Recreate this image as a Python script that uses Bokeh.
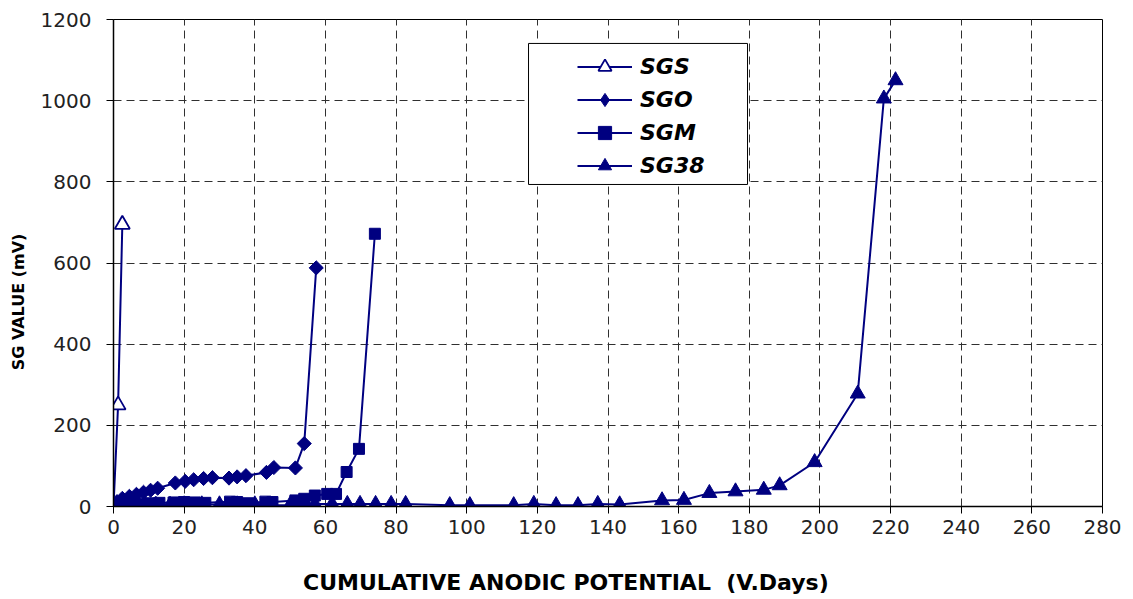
import math
from bokeh.plotting import figure
from bokeh.models import Range1d, FixedTicker, Legend, LegendItem, BoxAnnotation
from bokeh.embed import file_html
from bokeh.resources import INLINE

# ---- data ----
x_ticks = [0, 20, 40, 60, 80, 100, 120, 140, 160, 180, 200, 220, 240, 260, 280]
y_ticks = [0, 200, 400, 600, 800, 1000, 1200]

sgs_x = [0, 1.3, 2.5]
sgs_y = [0, 250, 695]

sgo_x = [0, 1, 2.5, 4.5, 6.5, 8.5, 10.5, 12.5, 17.5, 20.3, 22.7, 25.5, 28, 32.7, 35, 37.5, 43.3, 45.4, 51.5, 54, 57.4]
sgo_y = [0, 12, 20, 25, 30, 35, 40, 45, 58, 62, 66, 69, 71, 70, 73, 76, 84, 96, 95, 155, 588]

sgm_x = [0, 2, 4, 6, 8, 10, 13, 17, 20, 23, 26, 33, 35, 38, 43, 45, 51.5, 54, 57, 60.5, 63, 66, 69.5, 74]
sgm_y = [0, 3, 5, 6, 7, 8, 9, 10, 11, 10, 9, 12, 11, 8, 12, 11, 15, 19, 27, 31, 31, 85, 142, 672]

sg38_x = [0, 3, 6, 9, 12, 16, 20, 25, 30, 35, 40, 45, 50, 54.4, 57, 61.9, 66.2, 69.8, 74.2, 78.6, 82.7,
          95.2, 100.9, 113.3, 119, 125.3, 131.5, 137.1, 143.3, 155.3, 161.5, 168.7, 176.1, 184.1, 188.6,
          198.5, 210.7, 218.1, 221.4]
sg38_y = [0, 2, 3, 3, 4, 4, 5, 5, 5, 5, 5, 3, 4, 6, 6, 6, 6, 6, 6, 6, 6,
          3, 3, 3, 6, 3, 3, 6, 5, 15, 16, 33, 37, 41, 52,
          109, 278, 1005, 1050]

NAVY = "#000080"
FONT = "DejaVu Sans"

p = figure(width=1133, height=599, output_backend="svg", toolbar_location=None,
           x_range=Range1d(0, 280), y_range=Range1d(0, 1200),
           min_border_left=113, min_border_right=31, min_border_top=19, min_border_bottom=93)

p.background_fill_color = "white"
p.border_fill_color = "white"
p.outline_line_color = "#000000"
p.outline_line_width = 1

for ax, ticks in ((p.xaxis[0], x_ticks), (p.yaxis[0], y_ticks)):
    ax.ticker = FixedTicker(ticks=ticks)
    ax.axis_line_color = "black"
    ax.axis_line_width = 1.5
    ax.major_tick_line_color = "black"
    ax.major_tick_out = 7
    ax.major_tick_in = 0
    ax.minor_tick_line_color = None
    ax.major_label_text_font = FONT
    ax.major_label_text_font_size = "20px"
    ax.major_label_text_color = "#222222"
    ax.axis_label_text_font = FONT
    ax.axis_label_text_font_style = "bold"
    ax.axis_label_text_color = "black"

NB = "\u00a0"
p.xaxis.axis_label = "CUMULATIVE ANODIC POTENTIAL" + NB * 2 + "(V.Days)" + NB * 11
p.xaxis.axis_label_text_font_size = "22px"
p.xaxis.major_label_standoff = 6
p.xaxis.axis_label_standoff = 33

p.yaxis.axis_label = "SG VALUE (mV)" + NB * 14
p.yaxis.axis_label_text_font_size = "16px"
p.yaxis.major_label_standoff = 15
p.yaxis.axis_label_standoff = 10

for g, ticks in ((p.xgrid[0], x_ticks), (p.ygrid[0], y_ticks)):
    g.ticker = FixedTicker(ticks=ticks)
    g.grid_line_color = "#303030"
    g.grid_line_dash = "8 5"
    g.grid_line_width = 1

# ---- series ----
items = []

l1 = p.line(sgs_x, sgs_y, line_color=NAVY, line_width=2)
s1 = p.scatter(sgs_x[1:], sgs_y[1:], marker="triangle", size=15, fill_color="white",
               line_color=NAVY, line_width=1.8)
items.append(LegendItem(label="SGS", renderers=[l1, s1]))

l2 = p.line(sgo_x, sgo_y, line_color=NAVY, line_width=2)
# legend proxy marker (rotated squares are not rotated inside legends); drawn under the real first point
s2_leg = p.scatter(sgo_x[:1], sgo_y[:1], marker="diamond", size=18, fill_color=NAVY, line_color=NAVY)
s2 = p.scatter(sgo_x, sgo_y, marker="square", angle=math.pi / 4, size=10,
               fill_color=NAVY, line_color=NAVY)
items.append(LegendItem(label="SGO", renderers=[l2, s2_leg]))

l3 = p.line(sgm_x, sgm_y, line_color=NAVY, line_width=2)
s3 = p.scatter(sgm_x, sgm_y, marker="square", size=11, fill_color=NAVY, line_color=NAVY)
items.append(LegendItem(label="SGM", renderers=[l3, s3]))

l4 = p.line(sg38_x, sg38_y, line_color=NAVY, line_width=2)
s4 = p.scatter(sg38_x, sg38_y, marker="triangle", size=15, fill_color=NAVY, line_color=NAVY)
items.append(LegendItem(label="SG38", renderers=[l4, s4]))

# legend frame
box = BoxAnnotation(left=117.5, right=179.5, bottom=793.5, top=1141,
                    fill_color="white", fill_alpha=1.0,
                    line_color="black", line_width=1, line_alpha=1.0)
p.add_layout(box)

legend = Legend(items=items, location=(464, 324), orientation="vertical",
                padding=0, margin=0, spacing=0,
                glyph_width=55, glyph_height=33, label_height=33,
                label_standoff=8,
                label_text_font=FONT, label_text_font_style="bold italic",
                label_text_font_size="22px", label_text_color="black",
                border_line_alpha=0, background_fill_alpha=0)
p.add_layout(legend)

open("out.html", "w").write(file_html(p, INLINE))
